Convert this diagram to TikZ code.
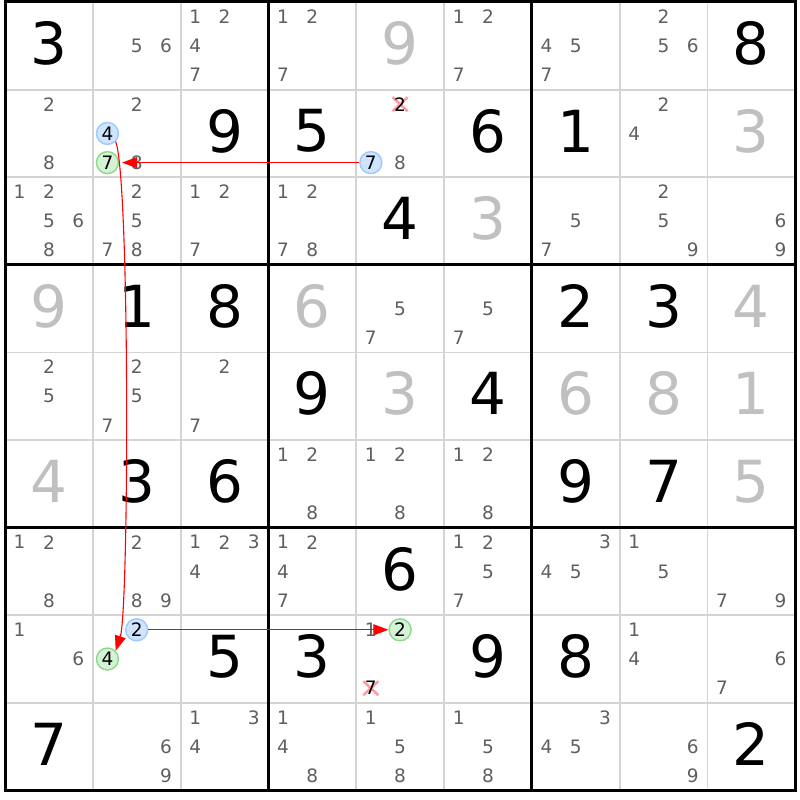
\documentclass[tikz,border=0pt]{standalone}
\usepackage{fontspec}
\setmainfont{DejaVu Sans}
\usetikzlibrary{arrows.meta,calc}
\definecolor{candgrey}{HTML}{5F5F5F}
\definecolor{solvedgrey}{HTML}{C0C0C0}
\definecolor{thingrid}{HTML}{D4D4D4}
\definecolor{bluefill}{HTML}{CFE4FF}
\definecolor{bluedraw}{HTML}{9CCAFF}
\definecolor{greenfill}{HTML}{D4F2D4}
\definecolor{greendraw}{HTML}{8ED88E}
\definecolor{xpink}{HTML}{FF8A95}
\definecolor{linkred}{HTML}{FF0000}
\newcommand\setpos[4]{\coordinate (#4) at ({5+87.8*#1+29.267*(mod(#3-1,3)+0.5)},{2+87.6*#2+29.2*(int((#3-1)/3)+0.5)});}
\newcommand\gv[3]{\node[given] (v#2#1) at ({5+87.8*(#1+0.5)},{2+87.6*(#2+0.5)-2.5}) {#3};}
\newcommand\sv[3]{\node[solved] (v#2#1) at ({5+87.8*(#1+0.5)},{2+87.6*(#2+0.5)-2.5}) {#3};}
\newcommand\cd[3]{\foreach \cdig in {#3}{\node[cand] (k#2#1\cdig) at ({5+87.8*#1+29.267*(mod(\cdig-1,3)+0.5)},{2+87.6*#2+29.2*(int((\cdig-1)/3)+0.5)}) {\cdig};}}
\begin{document}
\begin{tikzpicture}[x=1pt,y=-1pt,
  given/.style={font=\fontsize{58}{58}\selectfont, text=black, inner sep=0pt},
  solved/.style={given, text=solvedgrey},
  cand/.style={font=\fontsize{18.5}{18.5}\selectfont, text=candgrey, inner sep=0pt},
  hl/.style={circle, inner sep=0pt, minimum size=22pt, line width=1.4pt, font=\fontsize{18.5}{18.5}\selectfont, text=black},
  hlblue/.style={hl, draw=bluedraw, fill=bluefill},
  hlgreen/.style={hl, draw=greendraw, fill=greenfill},
  elim/.style={font=\fontsize{18.5}{18.5}\selectfont, text=black, inner sep=0pt},
  xmark/.style={draw=xpink, line width=2.6pt, opacity=0.85},
  thin/.style={draw=thingrid, line width=1.8pt},
  thick/.style={draw=black, line width=3pt},
  link/.style={draw=linkred, line width=1.1pt, -{Triangle[length=15pt,width=11pt]}}
]
\useasboundingbox (0,0) rectangle (800,800);
\fill[white] (0,0) rectangle (800,800);
% thin grid
\foreach \i in {1,2,4,5,7,8}{
  \draw[thin] ({5+87.8*\i},2) -- ({5+87.8*\i},790.4);
  \draw[thin] (5,{2+87.6*\i}) -- (795.2,{2+87.6*\i});
}
\foreach \i in {0,3,6,9}{
  \draw[thick] ({5+87.8*\i},0.5) -- ({5+87.8*\i},791.9);
  \draw[thick] (3.5,{2+87.6*\i}) -- (796.7,{2+87.6*\i});
}
% row 0
\gv{0}{0}{3} \cd{1}{0}{5,6} \cd{2}{0}{1,2,4,7} \cd{3}{0}{1,2,7} \sv{4}{0}{9} \cd{5}{0}{1,2,7} \cd{6}{0}{4,5,7} \cd{7}{0}{2,5,6} \gv{8}{0}{8}
% row 1
\cd{0}{1}{2,8} \cd{1}{1}{2,8} \gv{2}{1}{9} \gv{3}{1}{5} \cd{4}{1}{8} \gv{5}{1}{6} \gv{6}{1}{1} \cd{7}{1}{2,4} \sv{8}{1}{3}
% row 2
\cd{0}{2}{1,2,5,6,8} \cd{1}{2}{2,5,7,8} \cd{2}{2}{1,2,7} \cd{3}{2}{1,2,7,8} \gv{4}{2}{4} \sv{5}{2}{3} \cd{6}{2}{5,7} \cd{7}{2}{2,5,9} \cd{8}{2}{6,9}
% row 3
\sv{0}{3}{9} \gv{1}{3}{1} \gv{2}{3}{8} \sv{3}{3}{6} \cd{4}{3}{5,7} \cd{5}{3}{5,7} \gv{6}{3}{2} \gv{7}{3}{3} \sv{8}{3}{4}
% row 4
\cd{0}{4}{2,5} \cd{1}{4}{2,5,7} \cd{2}{4}{2,7} \gv{3}{4}{9} \sv{4}{4}{3} \gv{5}{4}{4} \sv{6}{4}{6} \sv{7}{4}{8} \sv{8}{4}{1}
% row 5
\sv{0}{5}{4} \gv{1}{5}{3} \gv{2}{5}{6} \cd{3}{5}{1,2,8} \cd{4}{5}{1,2,8} \cd{5}{5}{1,2,8} \gv{6}{5}{9} \gv{7}{5}{7} \sv{8}{5}{5}
% row 6
\cd{0}{6}{1,2,8} \cd{1}{6}{2,8,9} \cd{2}{6}{1,2,3,4} \cd{3}{6}{1,2,4,7} \gv{4}{6}{6} \cd{5}{6}{1,2,5,7} \cd{6}{6}{3,4,5} \cd{7}{6}{1,5} \cd{8}{6}{7,9}
% row 7
\cd{0}{7}{1,6} \gv{2}{7}{5} \gv{3}{7}{3} \cd{4}{7}{1} \gv{5}{7}{9} \gv{6}{7}{8} \cd{7}{7}{1,4} \cd{8}{7}{6,7}
% row 8
\gv{0}{8}{7} \cd{1}{8}{6,9} \cd{2}{8}{1,3,4} \cd{3}{8}{1,4,8} \cd{4}{8}{1,5,8} \cd{5}{8}{1,5,8} \cd{6}{8}{3,4,5} \cd{7}{8}{6,9} \gv{8}{8}{2}
% eliminated candidates
\setpos{4}{1}{2}{xa}
\setpos{4}{7}{7}{xb}
\draw[xmark] ($(xa)+(-7.5,-7)$) -- ($(xa)+(7.5,7)$) ($(xa)+(-7.5,7)$) -- ($(xa)+(7.5,-7)$);
\draw[xmark] ($(xb)+(-7.5,-7)$) -- ($(xb)+(7.5,7)$) ($(xb)+(-7.5,7)$) -- ($(xb)+(7.5,-7)$);
\node[elim] (e142) at (xa) {2};
\node[elim] (e747) at (xb) {7};
% highlighted candidates
\setpos{1}{1}{4}{p114} \setpos{1}{1}{7}{p117} \setpos{4}{1}{7}{p147}
\setpos{1}{7}{2}{p172} \setpos{1}{7}{4}{p174} \setpos{4}{7}{2}{p472}
\node[hlblue] (b114) at (p114) {4};
\node[hlgreen] (g117) at (p117) {7};
\node[hlblue] (b147) at (p147) {7};
\node[hlblue] (b172) at (p172) {2};
\node[hlgreen] (g174) at (p174) {4};
\node[hlgreen] (g472) at (p472) {2};
% links
\draw[link, shorten >=3pt] (b147) -- (g117);
\draw[link] (b172) -- (g472);
\draw[link] (b114.-45) .. controls (130,180) and (129,610) .. (g174.45);
\end{tikzpicture}
\end{document}
